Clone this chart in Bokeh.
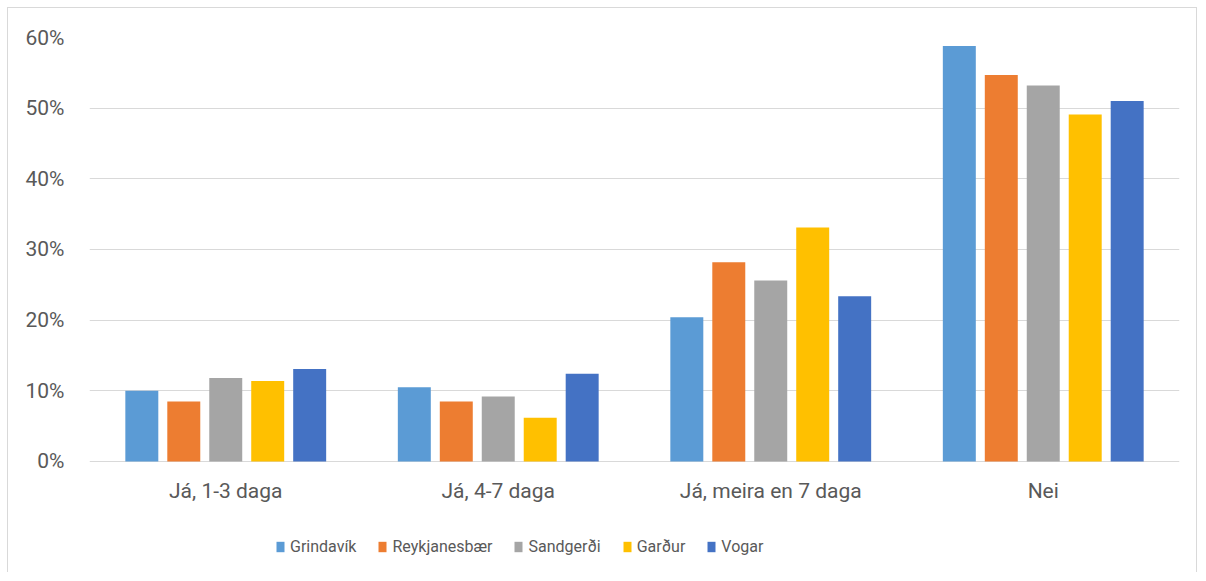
from bokeh.plotting import figure
from bokeh.models import ColumnDataSource, FactorRange, Range1d, NumeralTickFormatter, FixedTicker, Legend, LegendItem
from bokeh.core.properties import value
from bokeh.transform import dodge
from bokeh.embed import file_html
from bokeh.resources import INLINE

categories = ["Já, 1-3 daga", "Já, 4-7 daga", "Já, meira en 7 daga", "Nei"]
series = ["Grindavík", "Reykjanesbær", "Sandgerði", "Garður", "Vogar"]
grindavik = [0.100, 0.105, 0.204, 0.588]
reykjanesbaer = [0.085, 0.085, 0.282, 0.547]
sandgerdi = [0.118, 0.092, 0.256, 0.532]
gardur = [0.114, 0.062, 0.331, 0.491]
vogar = [0.131, 0.124, 0.234, 0.510]
colors = ["#5B9BD5", "#ED7D31", "#A5A5A5", "#FFC000", "#4472C4"]
yticks = [0, 0.1, 0.2, 0.3, 0.4, 0.5, 0.6]

source = ColumnDataSource(dict(cat=categories, s0=grindavik, s1=reykjanesbaer,
                               s2=sandgerdi, s3=gardur, s4=vogar, base=[0] * len(categories)))

# frame: 0.6 at top, 0 at 424px below; extra space below 0 holds category labels and legend
p = figure(x_range=FactorRange(*categories, range_padding=0), y_range=Range1d(-0.1585, 0.6),
           width=1190, height=565, output_backend="svg", toolbar_location=None,
           x_axis_location=None,
           min_border_left=81, min_border_right=19, min_border_top=29, min_border_bottom=0)
p.styles = {"border-left": "1px solid #d9d9d9", "border-top": "1px solid #d9d9d9",
            "border-right": "1px solid #d9d9d9", "margin-left": "7px", "margin-top": "7px",
            "box-sizing": "border-box"}

step = 0.154
bw = 0.121
renderers = []
for i, key in enumerate(["s0", "s1", "s2", "s3", "s4"]):
    r = p.vbar(x=dodge("cat", (i - 2) * step, range=p.x_range), top=key, width=bw,
               source=source, fill_color=colors[i], line_color=None)
    renderers.append(r)

# category labels under the zero line
p.text(x="cat", y="base", text="cat", source=source, text_align="center",
       text_baseline="middle", y_offset=30, text_font=value("Roboto"),
       text_font_size="21px", text_color="#595959")

p.outline_line_color = None
p.xgrid.grid_line_color = None
p.ygrid.grid_line_color = "#d9d9d9"
p.ygrid.grid_line_width = 1
p.yaxis.ticker = FixedTicker(ticks=yticks)
p.yaxis.formatter = NumeralTickFormatter(format="0%")
p.yaxis.major_tick_line_color = None
p.yaxis.minor_tick_line_color = None
p.yaxis.major_label_text_font = "Roboto"
p.yaxis.major_label_text_font_size = "21px"
p.yaxis.major_label_text_color = "#595959"
p.yaxis.axis_line_color = None
p.yaxis.major_label_standoff = 19

legend = Legend(items=[LegendItem(label=s, renderers=[r]) for s, r in zip(series, renderers)],
                orientation="horizontal", location=(186, 17),
                glyph_width=10, glyph_height=13, label_standoff=5, spacing=21,
                padding=0, margin=0, border_line_color=None, background_fill_alpha=0,
                label_text_font="Roboto", label_text_font_size="16px", label_text_color="#595959")
p.add_layout(legend, "center")

open("out.html", "w").write(file_html(p, INLINE))
